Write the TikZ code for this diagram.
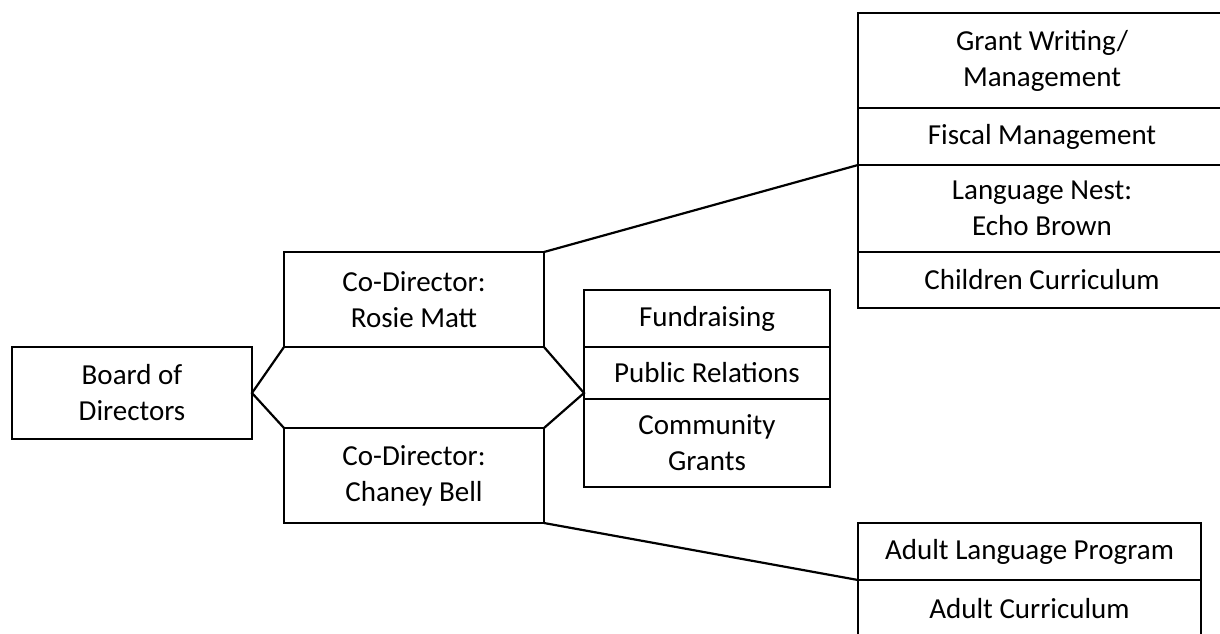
\documentclass[tikz,border=0pt]{standalone}
\usepackage{fontspec}
\setmainfont{Carlito}
\usetikzlibrary{positioning}

\tikzset{
unit/.style = {draw, line width=1.1pt, rectangle, inner sep=0pt, outer sep=0pt,
  align=center, font=\fontsize{14.5}{18}\selectfont},
director/.style = {unit, minimum width=130pt, minimum height=47.5pt, anchor=north west},
midunit/.style = {unit, minimum width=123pt},
topunit/.style = {unit, minimum width=184pt},
adultunit/.style = {unit, minimum width=171.5pt, minimum height=28.5pt}
}

\begin{document}
\begin{tikzpicture}[x=0.5pt, y=-0.5pt]
\useasboundingbox (0,0) rectangle (1220,633) ;

\node[unit, minimum width=120pt, minimum height=46pt, anchor=north west] (board) at (12,347) {Board of\\Directors} ;

\node[director] (rosie) at (284,252) {Co-Director:\\Rosie Matt} ;
\node[director] (chaney) at (284,428) {Co-Director:\\Chaney Bell} ;

\begin{scope}
\node[midunit, minimum height=28.5pt, anchor=north west] (fund) at (584,290) {Fundraising} ;
\node[midunit, minimum height=26pt, below=0pt of fund] (pubrel) {Public Relations} ;
\node[midunit, minimum height=44pt, below=0pt of pubrel] (commgrant) {Community\\Grants} ;
\end{scope}

\begin{scope}
\node[topunit, minimum height=47.5pt, anchor=north west] (grant) at (858,13) {Grant Writing/\\Management} ;
\node[topunit, minimum height=28.5pt, below=0pt of grant] (fiscal) {Fiscal Management} ;
\node[topunit, minimum height=43.5pt, below=0pt of fiscal] (nest) {Language Nest:\\Echo Brown} ;
\node[topunit, minimum height=28pt, below=0pt of nest] (childcur) {Children Curriculum} ;
\end{scope}

\begin{scope}
\node[adultunit, anchor=north west] (adultlang) at (858,523) {Adult Language Program} ;
\node[adultunit, below=0pt of adultlang] (adultcur) {Adult Curriculum} ;
\end{scope}

\draw[line width=1.1pt] (rosie.south west) -- (board.east) -- (chaney.north west) ;
\draw[line width=1.1pt] (rosie.south east) -- (board.east -| pubrel.west) -- (chaney.north east) ;
\draw[line width=1.1pt] (rosie.north east) -- (fiscal.south west) ;
\draw[line width=1.1pt] (chaney.south east) -- (adultlang.south west) ;
\end{tikzpicture}
\end{document}
